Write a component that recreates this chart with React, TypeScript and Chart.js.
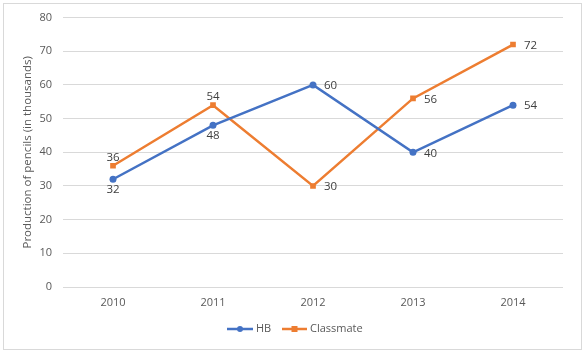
import React, { useEffect, useRef } from "react";
import { Chart, registerables } from "chart.js";

Chart.register(...registerables);

const categories = ["2010", "2011", "2012", "2013", "2014"];
const hbValues = [32, 48, 60, 40, 54];
const classmateValues = [36, 54, 30, 56, 72];
// label placement per point: "above", "below", "right"
const hbLabelPos = ["below", "below", "right", "right", "right"];
const classmateLabelPos = ["above", "above", "right", "right", "right"];

const BLUE = "#4472C4";
const ORANGE = "#ED7D31";
const FONT = "'Open Sans', 'Liberation Sans', sans-serif";

const labelsPlugin = {
  id: "customLabels",
  afterDatasetsDraw(chart: any) {
    const ctx = chart.ctx;
    ctx.save();
    ctx.font = `11.5px ${FONT}`;
    ctx.fillStyle = "#404040";
    chart.data.datasets.forEach((ds: any, di: number) => {
      const meta = chart.getDatasetMeta(di);
      const positions = ds.labelPos as string[];
      meta.data.forEach((pt: any, i: number) => {
        const v = String(ds.data[i]);
        const pos = positions[i];
        if (pos === "right") {
          ctx.textAlign = "left";
          ctx.textBaseline = "middle";
          ctx.fillText(v, pt.x + 11, pt.y + 1);
        } else if (pos === "above") {
          ctx.textAlign = "center";
          ctx.textBaseline = "middle";
          ctx.fillText(v, pt.x, pt.y - 8);
        } else {
          ctx.textAlign = "center";
          ctx.textBaseline = "middle";
          ctx.fillText(v, pt.x, pt.y + 10);
        }
      });
    });
    ctx.restore();
  },
  afterDraw(chart: any) {
    const ctx = chart.ctx;
    ctx.save();
    // outer border
    ctx.strokeStyle = "#d9d9d9";
    ctx.lineWidth = 1;
    ctx.strokeRect(3.5, 3.5, 578, 346);
    // legend
    const y = 329;
    const items = [
      { text: "HB", color: BLUE, x0: 227, x1: 253, style: "circle", tx: 256 },
      { text: "Classmate", color: ORANGE, x0: 282, x1: 307, style: "rect", tx: 310 },
    ];
    ctx.font = `11px ${FONT}`;
    ctx.textBaseline = "middle";
    ctx.textAlign = "left";
    items.forEach((it) => {
      ctx.strokeStyle = it.color;
      ctx.lineWidth = 2.5;
      ctx.beginPath();
      ctx.moveTo(it.x0, y);
      ctx.lineTo(it.x1, y);
      ctx.stroke();
      ctx.fillStyle = it.color;
      const cx = (it.x0 + it.x1) / 2;
      if (it.style === "circle") {
        ctx.beginPath();
        ctx.arc(cx, y, 3, 0, Math.PI * 2);
        ctx.fill();
      } else {
        ctx.fillRect(cx - 3, y - 3, 6, 6);
      }
      ctx.fillStyle = "#595959";
      ctx.fillText(it.text, it.tx, y);
    });
    ctx.restore();
  },
};

export default function App() {
  const ref = useRef<HTMLCanvasElement>(null);
  useEffect(() => {
    document.body.style.margin = "0";
    const chart = new Chart(ref.current as HTMLCanvasElement, {
      type: "line",
      data: {
        labels: categories,
        datasets: [
          {
            label: "HB",
            data: hbValues,
            borderColor: BLUE,
            backgroundColor: BLUE,
            borderWidth: 2.5,
            pointStyle: "circle",
            pointRadius: 3.5,
            pointBorderWidth: 0,
            tension: 0,
            labelPos: hbLabelPos,
          } as any,
          {
            label: "Classmate",
            data: classmateValues,
            borderColor: ORANGE,
            backgroundColor: ORANGE,
            borderWidth: 2.5,
            pointStyle: "rect",
            pointRadius: 4,
            pointBorderWidth: 0,
            tension: 0,
            labelPos: classmateLabelPos,
          } as any,
        ],
      },
      options: {
        animation: false,
        responsive: false,
        maintainAspectRatio: false,
        layout: { padding: { top: 16, right: 22, bottom: 0, left: 0 } },
        plugins: {
          legend: { display: false },
          tooltip: { enabled: false },
        },
        scales: {
          x: {
            offset: true,
            grid: { display: false, drawTicks: false },
            border: { display: false },
            ticks: { color: "#595959", font: { family: FONT, size: 11 }, padding: 9 },
            afterFit: (s: any) => {
              s.height = 67;
            },
          },
          y: {
            min: 0,
            max: 80,
            ticks: { stepSize: 10, color: "#595959", font: { family: FONT, size: 11 }, padding: 11 },
            grid: { color: "#d9d9d9", drawTicks: false },
            border: { display: false },
            title: {
              display: true,
              text: "Production of pencils (in thousands)",
              color: "#595959",
              font: { family: FONT, size: 11.5 },
              padding: { top: 21, bottom: 0 },
            },
            afterFit: (s: any) => {
              s.width = 63;
            },
          },
        },
      },
      plugins: [labelsPlugin],
    });
    return () => chart.destroy();
  }, []);
  return (
    <div style={{ width: 585, height: 354, background: "#fff" }}>
      <canvas ref={ref} width={585} height={354} style={{ display: "block" }} />
    </div>
  );
}
